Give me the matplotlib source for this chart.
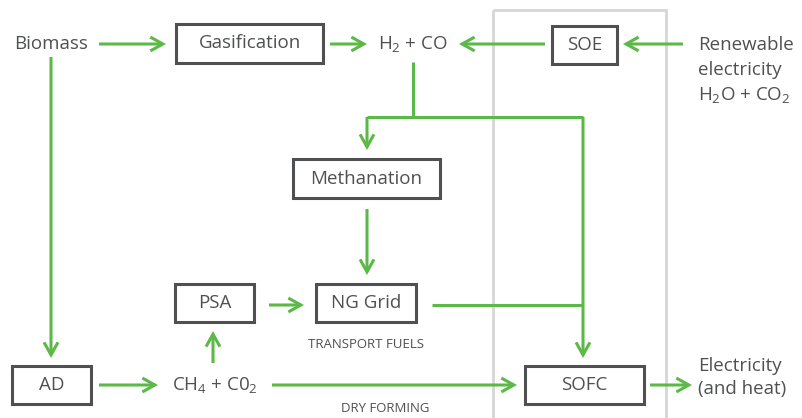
import matplotlib.pyplot as plt
from matplotlib.patches import Rectangle, FancyArrowPatch

plt.rcParams['font.family'] = ['Open Sans', 'DejaVu Sans']
plt.rcParams['mathtext.fontset'] = 'custom'
plt.rcParams['mathtext.rm'] = 'Open Sans'
plt.rcParams['mathtext.it'] = 'Open Sans'

GREEN = '#5cb947'
TXT = '#4f5052'
FRAME = '#d6d6d6'

# boxed process steps
box_labels = ["Gasification", "SOE", "Methanation", "PSA", "NG Grid", "AD", "SOFC"]
# free text (one entry per line)
text_labels = ["Biomass", "H$_2$ + CO", "Renewable", "electricity", "H$_2$O + CO$_2$",
               "CH$_4$ + C0$_2$", "Electricity", "(and heat)"]
small_labels = ["TRANSPORT FUELS", "DRY FORMING"]

# layout (pixel coords, y down)
box_pos = {
    "Gasification": (176, 323, 24, 63),
    "SOE": (552, 617, 26, 64),
    "Methanation": (293, 440, 159, 198),
    "PSA": (175, 254, 284, 322),
    "NG Grid": (316, 416, 284, 322),
    "AD": (12, 91, 366, 404),
    "SOFC": (525, 644, 366, 404),
}
text_pos = [(51, 44, 'center'), (413, 44, 'center'), (698, 45, 'left'),
            (698, 70, 'left'), (698, 95, 'left'),
            (215, 385, 'center'), (698, 366, 'left'), (698, 389, 'left')]
small_pos = [(366, 344), (385, 408)]

arrows = [
    ((99, 44), (166, 44)),
    ((330, 44), (367, 44)),
    ((545, 44), (459, 44)),
    ((683, 44), (623, 44)),
    ((367, 117), (367, 150)),
    ((367, 209), (367, 275)),
    ((583, 117), (583, 358)),
    ((269, 305), (304, 305)),
    ((51, 57), (51, 358)),
    ((99, 385), (158, 385)),
    ((213, 363), (213, 331)),
    ((272, 385), (517, 385)),
    ((650, 385), (692, 385)),
]
lines = [
    ((413, 62), (413, 117)),
    ((367, 117), (583, 117)),
    ((432, 305), (583, 305)),
]

fig = plt.figure(figsize=(8.02, 4.18), dpi=100)
ax = fig.add_axes([0, 0, 1, 1])
ax.set_xlim(0, 802)
ax.set_ylim(418, 0)
ax.axis('off')

# light frame around SOE / SOFC
ax.add_patch(Rectangle((493, 10), 173, 420, fill=False, edgecolor=FRAME, lw=2))

for name in box_labels:
    x0, x1, y0, y1 = box_pos[name]
    ax.add_patch(Rectangle((x0, y0), x1 - x0, y1 - y0, fill=False,
                           edgecolor=TXT, lw=2.2, zorder=3))
    ax.text((x0 + x1) / 2, (y0 + y1) / 2, name, ha='center', va='center',
            fontsize=13.5, color=TXT)

for label, (x, y, ha) in zip(text_labels, text_pos):
    ax.text(x, y, label, ha=ha, va='center', fontsize=13.5, color=TXT)

for label, (x, y) in zip(small_labels, small_pos):
    ax.text(x, y, label, ha='center', va='center', fontsize=9.5, color=TXT)

for (a, b) in lines:
    ax.plot([a[0], b[0]], [a[1], b[1]], color=GREEN, lw=2.2,
            solid_capstyle='butt')

for (a, b) in arrows:
    ax.add_patch(FancyArrowPatch(a, b, arrowstyle='->,head_length=0.9,head_width=0.5',
                                 mutation_scale=10, color=GREEN, lw=2.2,
                                 shrinkA=0, shrinkB=0, capstyle='butt',
                                 joinstyle='miter'))

fig.savefig('out.png', dpi=100)
